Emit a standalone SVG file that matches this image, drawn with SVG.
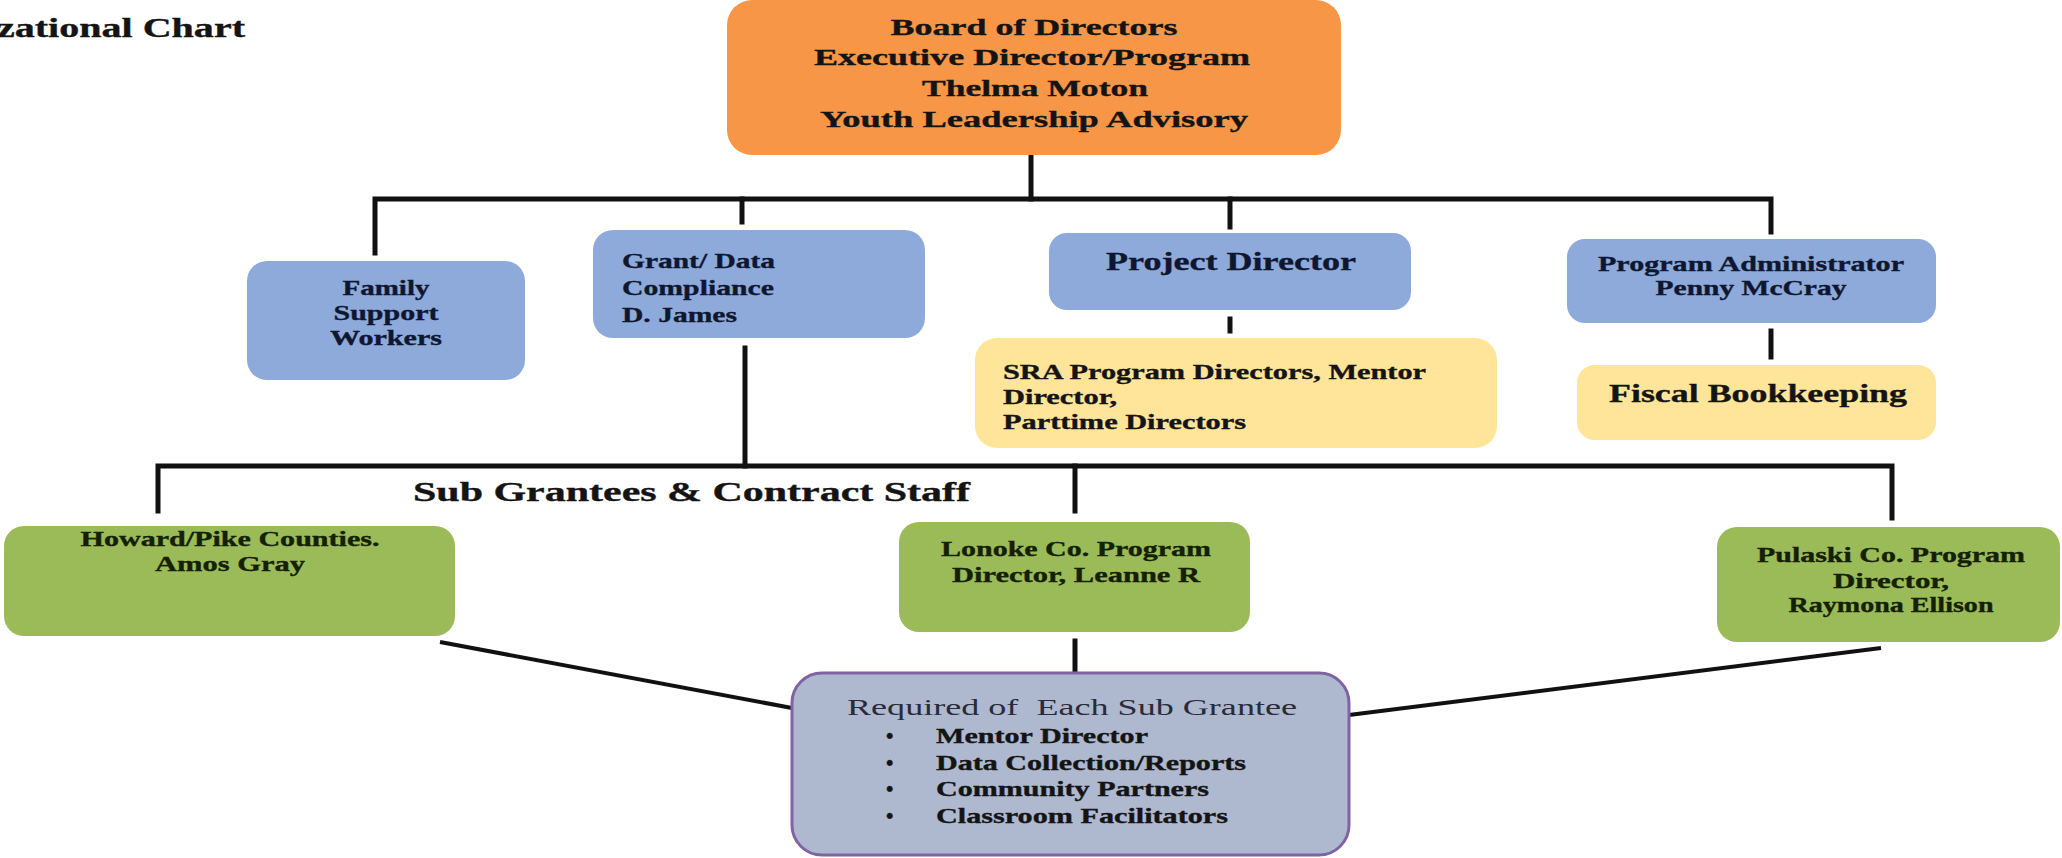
<svg xmlns="http://www.w3.org/2000/svg" width="2062" height="858" viewBox="0 0 2062 858">
<style>
  text { font-family: "Liberation Serif", "Times New Roman", serif; font-weight: bold; fill: #141414; stroke: #141414; stroke-width: 0.35; }
  .c { text-anchor: middle; }
  .blue { fill: #8EAADB; }
  .yellow { fill: #FFE599; }
  .green { fill: #9BBB59; }
  .orange { fill: #F79646; }
  .purple { fill: #AEB9D0; stroke: #8064A2; stroke-width: 3; }
  .t21 { font-size: 21px; }
  .t24 { font-size: 24px; }
  .t26 { font-size: 26px; }
  .dark-blue { fill: #0F1730; stroke: #0F1730; }
  .dark-green { fill: #142000; stroke: #142000; }
  .reg { font-weight: normal; fill: #2A2A38; stroke: none; white-space: pre; }
  .conn { fill: none; stroke: #111; stroke-width: 5; stroke-linecap: square; stroke-linejoin: miter; }
  .conn2 { fill: none; stroke: #111; stroke-width: 4; }
</style>
<rect width="2062" height="858" fill="#FFFFFF"/>

<g id="title">
  <text x="-3" y="37" font-size="28" textLength="248" lengthAdjust="spacingAndGlyphs">zational Chart</text>
</g>

<g id="connectors">
  <path class="conn" d="M1031,155 V199"/>
  <path class="conn" d="M375,253 V199 H1771 V232"/>
  <path class="conn" d="M742,199 V222"/>
  <path class="conn" d="M1230,199 V227"/>
  <path class="conn" d="M1230,319 V331"/>
  <path class="conn" d="M1771,331 V357"/>
  <path class="conn" d="M745,348 V466"/>
  <path class="conn" d="M158,511 V466 H1892 V518"/>
  <path class="conn" d="M1075,466 V511"/>
  <path class="conn" d="M1075,641 V671"/>
  <path class="conn2" d="M440,642 L792,708"/>
  <path class="conn2" d="M1881,648 L1349,715"/>
</g>

<g id="board">
  <rect class="orange" x="727" y="0" width="614" height="155" rx="25"/>
  <text class="c t24" x="1034" y="35" textLength="287" lengthAdjust="spacingAndGlyphs">Board of Directors</text>
  <text class="c t24" x="1032" y="65" textLength="436" lengthAdjust="spacingAndGlyphs">Executive Director/Program</text>
  <text class="c t24" x="1035" y="96" textLength="226" lengthAdjust="spacingAndGlyphs">Thelma Moton</text>
  <text class="c t24" x="1034" y="127" textLength="428" lengthAdjust="spacingAndGlyphs">Youth Leadership Advisory</text>
</g>

<g id="family">
  <rect class="blue" x="247" y="261" width="278" height="119" rx="20"/>
  <text class="c t21 dark-blue" x="386" y="295" textLength="87" lengthAdjust="spacingAndGlyphs">Family</text>
  <text class="c t21 dark-blue" x="386" y="320" textLength="105" lengthAdjust="spacingAndGlyphs">Support</text>
  <text class="c t21 dark-blue" x="386" y="345" textLength="112" lengthAdjust="spacingAndGlyphs">Workers</text>
</g>

<g id="grant">
  <rect class="blue" x="593" y="230" width="332" height="108" rx="20"/>
  <text class="t21 dark-blue" x="622" y="268" textLength="153" lengthAdjust="spacingAndGlyphs">Grant/ Data</text>
  <text class="t21 dark-blue" x="622" y="295" textLength="152" lengthAdjust="spacingAndGlyphs">Compliance</text>
  <text class="t21 dark-blue" x="622" y="322" textLength="115" lengthAdjust="spacingAndGlyphs">D. James</text>
</g>

<g id="project">
  <rect class="blue" x="1049" y="233" width="362" height="77" rx="18"/>
  <text class="c t26 dark-blue" x="1231" y="270" textLength="250" lengthAdjust="spacingAndGlyphs">Project Director</text>
</g>

<g id="sra">
  <rect class="yellow" x="975" y="338" width="522" height="110" rx="22"/>
  <text class="t21" x="1003" y="379" textLength="423" lengthAdjust="spacingAndGlyphs">SRA Program Directors, Mentor</text>
  <text class="t21" x="1003" y="404" textLength="114" lengthAdjust="spacingAndGlyphs">Director,</text>
  <text class="t21" x="1003" y="429" textLength="243" lengthAdjust="spacingAndGlyphs">Parttime Directors</text>
</g>

<g id="admin">
  <rect class="blue" x="1567" y="239" width="369" height="84" rx="18"/>
  <text class="c t21 dark-blue" x="1751" y="271" textLength="306" lengthAdjust="spacingAndGlyphs">Program Administrator</text>
  <text class="c t21 dark-blue" x="1751" y="295" textLength="191" lengthAdjust="spacingAndGlyphs">Penny McCray</text>
</g>

<g id="fiscal">
  <rect class="yellow" x="1577" y="365" width="359" height="75" rx="18"/>
  <text class="c t26" x="1758" y="402" textLength="298" lengthAdjust="spacingAndGlyphs">Fiscal Bookkeeping</text>
</g>

<g id="subgrantees-label">
  <text x="413" y="501" font-size="27" textLength="557" lengthAdjust="spacingAndGlyphs">Sub Grantees &amp; Contract Staff</text>
</g>

<g id="howard">
  <rect class="green" x="4" y="526" width="451" height="110" rx="20"/>
  <text class="c t21 dark-green" x="230" y="546" textLength="299" lengthAdjust="spacingAndGlyphs">Howard/Pike Counties.</text>
  <text class="c t21 dark-green" x="230" y="571" textLength="150" lengthAdjust="spacingAndGlyphs">Amos Gray</text>
</g>

<g id="lonoke">
  <rect class="green" x="899" y="522" width="351" height="110" rx="20"/>
  <text class="c t21 dark-green" x="1076" y="556" textLength="270" lengthAdjust="spacingAndGlyphs">Lonoke Co. Program</text>
  <text class="c t21 dark-green" x="1076" y="582" textLength="248" lengthAdjust="spacingAndGlyphs">Director, Leanne R</text>
</g>

<g id="pulaski">
  <rect class="green" x="1717" y="527" width="343" height="115" rx="20"/>
  <text class="c t21 dark-green" x="1891" y="562" textLength="268" lengthAdjust="spacingAndGlyphs">Pulaski Co. Program</text>
  <text class="c t21 dark-green" x="1891" y="588" textLength="116" lengthAdjust="spacingAndGlyphs">Director,</text>
  <text class="c t21 dark-green" x="1891" y="612" textLength="205" lengthAdjust="spacingAndGlyphs">Raymona Ellison</text>
</g>

<g id="required">
  <rect class="purple" x="792" y="673" width="557" height="182" rx="30"/>
  <text class="c t24 reg" x="1072" y="715" textLength="450" lengthAdjust="spacingAndGlyphs">Required of  Each Sub Grantee</text>
  <text class="t21" x="886" y="743">•</text>
  <text class="t21" x="886" y="770">•</text>
  <text class="t21" x="886" y="796">•</text>
  <text class="t21" x="886" y="823">•</text>
  <text class="t21" x="936" y="743" textLength="212" lengthAdjust="spacingAndGlyphs">Mentor Director</text>
  <text class="t21" x="936" y="770" textLength="310" lengthAdjust="spacingAndGlyphs">Data Collection/Reports</text>
  <text class="t21" x="936" y="796" textLength="273" lengthAdjust="spacingAndGlyphs">Community Partners</text>
  <text class="t21" x="936" y="823" textLength="292" lengthAdjust="spacingAndGlyphs">Classroom Facilitators</text>
</g>
</svg>
